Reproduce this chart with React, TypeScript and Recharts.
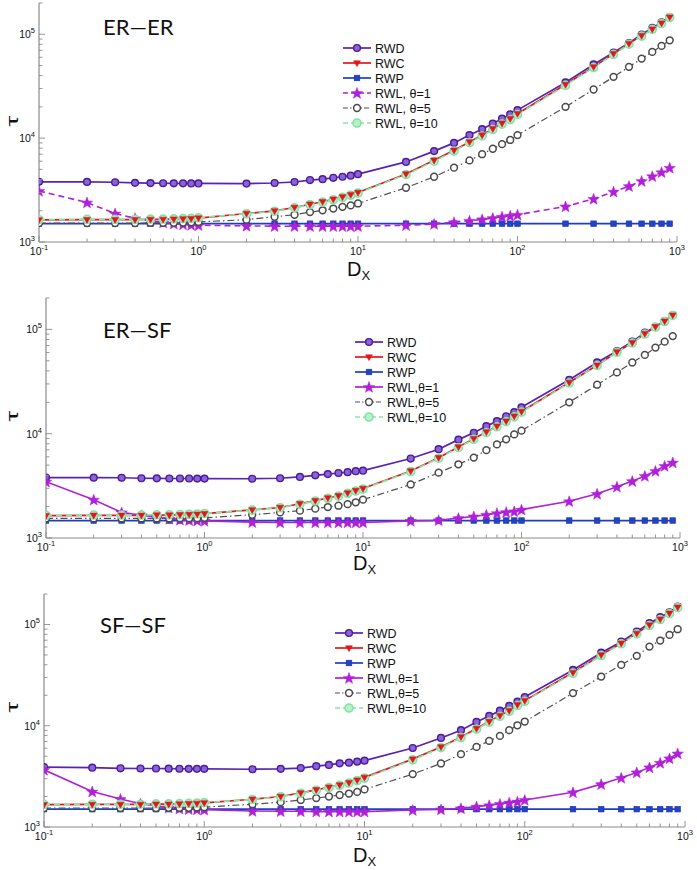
import React from 'react';
import { LineChart, Line, XAxis, YAxis } from 'recharts';

// ---------- data ----------
const DX = [0.1, 0.2, 0.3, 0.4, 0.5, 0.6, 0.7, 0.8, 0.9, 1, 2, 3, 4, 5, 6, 7, 8, 9, 10, 20, 30, 40, 50, 60, 70, 80, 90, 100, 200, 300, 400, 500, 600, 700, 800, 900];

const X_TICKS = [0.1, 0.2, 0.3, 0.4, 0.5, 0.6, 0.7, 0.8, 0.9, 1, 2, 3, 4, 5, 6, 7, 8, 9, 10, 20, 30, 40, 50, 60, 70, 80, 90, 100, 200, 300, 400, 500, 600, 700, 800, 900, 1000];
const X_MAJOR = [0.1, 1, 10, 100, 1000];
const Y_TICKS = [1000, 2000, 3000, 4000, 5000, 6000, 7000, 8000, 9000, 10000, 20000, 30000, 40000, 50000, 60000, 70000, 80000, 90000, 100000, 200000];
const Y_MAJOR = [1000, 10000, 100000];

const ER_ER_RWD = [3800, 3790, 3760, 3710, 3690, 3680, 3670, 3670, 3660, 3660, 3650, 3700, 3780, 3950, 4030, 4150, 4250, 4350, 4500, 5900, 7500, 9000, 10700, 12200, 13800, 15400, 16900, 18600, 34400, 51200, 66700, 82400, 99400, 115000, 130000, 146000];
const ER_ER_RWC = [1630, 1640, 1640, 1640, 1650, 1650, 1660, 1670, 1680, 1700, 1880, 1990, 2150, 2310, 2440, 2580, 2720, 2860, 3000, 4520, 6120, 7640, 9200, 10700, 12300, 13900, 15400, 17200, 32800, 48500, 65000, 81300, 97000, 112000, 128000, 146000];
const ER_ER_RWP = [1500, 1500, 1500, 1500, 1500, 1500, 1500, 1500, 1500, 1500, 1500, 1500, 1500, 1500, 1500, 1500, 1500, 1500, 1500, 1500, 1500, 1500, 1500, 1500, 1500, 1500, 1500, 1500, 1500, 1500, 1500, 1500, 1500, 1500, 1500, 1500];
const ER_ER_L1 = [3100, 2400, 1880, 1690, 1600, 1540, 1500, 1480, 1460, 1450, 1430, 1420, 1420, 1420, 1420, 1420, 1420, 1420, 1420, 1450, 1490, 1550, 1600, 1650, 1700, 1750, 1790, 1830, 2200, 2600, 3050, 3450, 3860, 4300, 4700, 5180];
const ER_ER_L5 = [1520, 1520, 1520, 1520, 1530, 1530, 1530, 1540, 1550, 1560, 1640, 1750, 1830, 1940, 2020, 2100, 2180, 2250, 2350, 3330, 4250, 5200, 6100, 7000, 7900, 8750, 9600, 10700, 20000, 29400, 38900, 48600, 58300, 67600, 77200, 87500];
const ER_ER_L10 = [1640, 1650, 1650, 1650, 1660, 1660, 1670, 1680, 1690, 1710, 1870, 1980, 2130, 2290, 2420, 2550, 2690, 2820, 2960, 4450, 6000, 7500, 9050, 10500, 12100, 13650, 15100, 16900, 32200, 47800, 64000, 80200, 96000, 111500, 127000, 145000];

const ER_SF_RWD = [3800, 3790, 3780, 3740, 3730, 3720, 3720, 3720, 3710, 3710, 3700, 3740, 3850, 3990, 4100, 4200, 4280, 4370, 4420, 5780, 7100, 8770, 10200, 11800, 13200, 14700, 16100, 17900, 32900, 48200, 62100, 76300, 93000, 106000, 120000, 137000];
const ER_SF_RWC = [1640, 1650, 1650, 1650, 1660, 1660, 1670, 1680, 1690, 1710, 1860, 1960, 2130, 2280, 2420, 2540, 2700, 2850, 2980, 4390, 5890, 7470, 8960, 10400, 11800, 13200, 14700, 16300, 31000, 45400, 60800, 74600, 91000, 106000, 120000, 137000];
const ER_SF_RWP = [1470, 1470, 1470, 1470, 1470, 1470, 1470, 1470, 1470, 1470, 1470, 1470, 1470, 1470, 1470, 1470, 1470, 1470, 1470, 1470, 1470, 1470, 1470, 1470, 1470, 1470, 1470, 1470, 1470, 1470, 1470, 1470, 1470, 1470, 1470, 1470];
const ER_SF_L1 = [3470, 2330, 1760, 1650, 1580, 1530, 1500, 1480, 1470, 1460, 1420, 1410, 1410, 1410, 1410, 1410, 1410, 1410, 1410, 1460, 1480, 1550, 1610, 1670, 1730, 1770, 1800, 1870, 2250, 2650, 3100, 3510, 3930, 4390, 4910, 5290];
const ER_SF_L5 = [1540, 1540, 1540, 1540, 1540, 1540, 1550, 1550, 1550, 1560, 1670, 1760, 1830, 1910, 1980, 2040, 2110, 2200, 2330, 3260, 4230, 5090, 5900, 6950, 7900, 8830, 9850, 10700, 20000, 29500, 38700, 48200, 56900, 66900, 76300, 86300];
const ER_SF_L10 = [1650, 1660, 1660, 1660, 1670, 1670, 1680, 1690, 1700, 1720, 1850, 1950, 2110, 2260, 2400, 2520, 2680, 2820, 2950, 4340, 5820, 7380, 8850, 10250, 11650, 13050, 14500, 16100, 30600, 45000, 60300, 74000, 90300, 105000, 119000, 136000];

const SF_SF_RWD = [3900, 3850, 3800, 3780, 3780, 3770, 3760, 3750, 3750, 3750, 3720, 3750, 3820, 3990, 4100, 4250, 4320, 4420, 4520, 6030, 7580, 9040, 10900, 12500, 14100, 15700, 17300, 19200, 35600, 52700, 67600, 84900, 103000, 118000, 132000, 150000];
const SF_SF_RWC = [1660, 1670, 1670, 1670, 1680, 1680, 1690, 1700, 1710, 1730, 1880, 2000, 2170, 2330, 2470, 2600, 2740, 2900, 3090, 4680, 6180, 7760, 9380, 11000, 12600, 14100, 16100, 17700, 33500, 50100, 65200, 81700, 98800, 113000, 129000, 148000];
const SF_SF_RWP = [1500, 1500, 1500, 1500, 1500, 1500, 1500, 1500, 1500, 1500, 1500, 1500, 1500, 1500, 1500, 1500, 1500, 1500, 1500, 1500, 1500, 1500, 1500, 1500, 1500, 1500, 1500, 1500, 1500, 1500, 1500, 1500, 1500, 1500, 1500, 1500];
const SF_SF_L1 = [3670, 2240, 1890, 1700, 1620, 1560, 1520, 1500, 1490, 1480, 1440, 1430, 1430, 1420, 1420, 1420, 1420, 1420, 1420, 1470, 1490, 1530, 1590, 1640, 1690, 1740, 1780, 1850, 2200, 2650, 3060, 3460, 3880, 4300, 4760, 5320];
const SF_SF_L5 = [1540, 1540, 1540, 1540, 1540, 1550, 1550, 1550, 1560, 1570, 1680, 1760, 1850, 1930, 2000, 2070, 2140, 2220, 2350, 3330, 4240, 5240, 6180, 7080, 7940, 9040, 10100, 11000, 21000, 30600, 39900, 49000, 60500, 69400, 78900, 89800];
const SF_SF_L10 = [1670, 1680, 1680, 1680, 1690, 1690, 1700, 1710, 1720, 1740, 1870, 1990, 2150, 2310, 2450, 2580, 2720, 2870, 3040, 4600, 6080, 7640, 9250, 10850, 12400, 13900, 15850, 17450, 33000, 49400, 64500, 80800, 97700, 112000, 128000, 147000];

const LABELS_SPACED = ['RWD', 'RWC', 'RWP', 'RWL, θ=1', 'RWL, θ=5', 'RWL, θ=10'];
const LABELS_TIGHT = ['RWD', 'RWC', 'RWP', 'RWL,θ=1', 'RWL,θ=5', 'RWL,θ=10'];
const TITLES = ['ER—ER', 'ER—SF', 'SF—SF'];

// ---------- styles ----------
const C_RWD = '#5a22b4';
const C_RWC = '#e3161c';
const C_RWP = '#1f3fbf';
const C_L1 = '#b020d8';
const C_L5 = '#505050';
const C_L10 = '#86e6a6';
const AXIS = '#8a8a8a';
const FONT = '"Liberation Sans", Arial, Helvetica, sans-serif';

const starPath = (cx: number, cy: number, R: number) => {
  const r = R * 0.42;
  let d = '';
  for (let i = 0; i < 10; i++) {
    const rad = i % 2 === 0 ? R : r;
    const a = -Math.PI / 2 + (i * Math.PI) / 5;
    d += (i === 0 ? 'M' : 'L') + (cx + rad * Math.cos(a)).toFixed(2) + ',' + (cy + rad * Math.sin(a)).toFixed(2);
  }
  return d + 'Z';
};

type MK = 'rwd' | 'rwc' | 'rwp' | 'l1' | 'l5' | 'l10';

const Marker = ({ kind, cx, cy }: { kind: MK; cx: number; cy: number }) => {
  switch (kind) {
    case 'rwd':
      return <circle cx={cx} cy={cy} r={3.4} fill="#8a64d2" stroke="#4c1a9e" strokeWidth={1.4} />;
    case 'rwc':
      return <path d={`M${cx - 3.4},${cy - 2.2}L${cx + 3.4},${cy - 2.2}L${cx},${cy + 3.6}Z`} fill={C_RWC} stroke={C_RWC} strokeWidth={0.6} />;
    case 'rwp':
      return <rect x={cx - 2.8} y={cy - 2.8} width={5.6} height={5.6} fill="#2442c4" stroke="#1c36a8" strokeWidth={0.6} />;
    case 'l1':
      return <path d={starPath(cx, cy + 0.5, 6)} fill={C_L1} stroke={C_L1} strokeWidth={0.5} />;
    case 'l5':
      return <circle cx={cx} cy={cy} r={3.4} fill="#ffffff" stroke="#4a4a4a" strokeWidth={1.5} />;
    case 'l10':
      return <circle cx={cx} cy={cy} r={4} fill="#b8f0cc" stroke="#84e2a4" strokeWidth={1.6} />;
  }
  return null;
};

const dotFn = (kind: MK) => (p: any) => {
  if (p.cx == null || p.cy == null) return <g key={`n-${kind}-${p.index}`} />;
  return (
    <g key={`d-${kind}-${p.index}`}>
      <Marker kind={kind} cx={p.cx} cy={p.cy} />
    </g>
  );
};

const fmtExp = (v: number) => String(Math.round(Math.log10(v)));
const isMajorX = (v: number) => X_MAJOR.some((m) => Math.abs(m - v) < 1e-9);
const isMajorY = (v: number) => Y_MAJOR.some((m) => Math.abs(m - v) < 1e-9);

const XTick = (props: any) => {
  const { x, y, payload, side } = props;
  const v = payload.value;
  const major = isMajorX(v);
  const len = major ? 6 : 3.5;
  const dir = side === 'bottom' ? -1 : 1;
  return (
    <g>
      <line x1={x} x2={x} y1={y} y2={y + dir * len} stroke={AXIS} strokeWidth={0.9} />
      {major && side === 'bottom' ? (
        <text x={x} y={y + 13} textAnchor="middle" fontSize={10.5} fontFamily={FONT} fill="#111">
          10<tspan dy={-5} fontSize={7.5}>{fmtExp(v)}</tspan>
        </text>
      ) : null}
    </g>
  );
};

const YTick = (props: any) => {
  const { x, y, payload, side } = props;
  const v = payload.value;
  const major = isMajorY(v);
  const len = major ? 6 : 3.5;
  const dir = side === 'left' ? 1 : -1;
  return (
    <g>
      <line x1={x} x2={x + dir * len} y1={y} y2={y} stroke={AXIS} strokeWidth={0.9} />
      {major && side === 'left' ? (
        <text x={x - 4} y={y + 4} textAnchor="end" fontSize={10.5} fontFamily={FONT} fill="#111">
          10<tspan dy={-5} fontSize={7.5}>{fmtExp(v)}</tspan>
        </text>
      ) : null}
    </g>
  );
};

type PanelCfg = {
  top: number;
  height: number;
  mTop: number;
  yW: number;
  mRight: number;
  rwd: number[];
  rwc: number[];
  rwp: number[];
  l1: number[];
  l5: number[];
  l10: number[];
  l1Dashed: boolean;
};

const PANELS: PanelCfg[] = [
  { top: 0, height: 260, mTop: 3, yW: 39, mRight: 20, rwd: ER_ER_RWD, rwc: ER_ER_RWC, rwp: ER_ER_RWP, l1: ER_ER_L1, l5: ER_ER_L5, l10: ER_ER_L10, l1Dashed: true },
  { top: 290, height: 266, mTop: 8, yW: 46, mRight: 17, rwd: ER_SF_RWD, rwc: ER_SF_RWC, rwp: ER_SF_RWP, l1: ER_SF_L1, l5: ER_SF_L5, l10: ER_SF_L10, l1Dashed: false },
  { top: 580, height: 265, mTop: 14, yW: 44, mRight: 12, rwd: SF_SF_RWD, rwc: SF_SF_RWC, rwp: SF_SF_RWP, l1: SF_SF_L1, l5: SF_SF_L5, l10: SF_SF_L10, l1Dashed: false },
];

const Panel = ({ cfg }: { cfg: PanelCfg }) => {
  const data = DX.map((x, i) => ({
    x,
    rwd: cfg.rwd[i],
    rwc: cfg.rwc[i],
    rwp: cfg.rwp[i],
    l1: cfg.l1[i],
    l5: cfg.l5[i],
    l10: cfg.l10[i],
  }));
  const common = { xAxisId: 'b', yAxisId: 'l', type: 'linear' as const, isAnimationActive: false, activeDot: false, legendType: 'none' as const };
  return (
    <div style={{ position: 'absolute', left: 0, top: cfg.top }}>
      <LineChart width={697} height={cfg.height} data={data} margin={{ top: cfg.mTop, right: cfg.mRight, left: 0, bottom: 0 }}>
        <XAxis xAxisId="b" dataKey="x" type="number" scale="log" domain={[0.1, 1000]} allowDataOverflow ticks={X_TICKS} interval={0}
          height={18} tickLine={false} tickSize={0} tickMargin={0} axisLine={{ stroke: AXIS, strokeWidth: 1.2 }}
          tick={(p: any) => <XTick {...p} side="bottom" />} />
        <XAxis xAxisId="t" orientation="top" dataKey="x" type="number" scale="log" domain={[0.1, 1000]} allowDataOverflow ticks={X_TICKS} interval={0}
          height={0} tickLine={false} tickSize={0} tickMargin={0} axisLine={{ stroke: AXIS, strokeWidth: 1.2 }}
          tick={(p: any) => <XTick {...p} side="top" />} />
        <YAxis yAxisId="l" type="number" scale="log" domain={[1000, 200000]} allowDataOverflow ticks={Y_TICKS} interval={0}
          width={cfg.yW} tickLine={false} tickSize={0} tickMargin={0} axisLine={{ stroke: AXIS, strokeWidth: 1.2 }}
          tick={(p: any) => <YTick {...p} side="left" />} />
        <YAxis yAxisId="r" orientation="right" type="number" scale="log" domain={[1000, 200000]} allowDataOverflow ticks={Y_TICKS} interval={0}
          width={0} tickLine={false} tickSize={0} tickMargin={0} axisLine={{ stroke: AXIS, strokeWidth: 1.2 }}
          tick={(p: any) => <YTick {...p} side="right" />} />

        <Line {...common} dataKey="rwd" stroke={C_RWD} strokeWidth={1.7} dot={dotFn('rwd')} />
        <Line {...common} dataKey="rwc" stroke={C_RWC} strokeWidth={1.7} dot={false} />
        <Line {...common} dataKey="rwp" stroke={C_RWP} strokeWidth={1.7} dot={dotFn('rwp')} />
        <Line {...common} dataKey="l1" stroke={C_L1} strokeWidth={1.6} strokeDasharray={cfg.l1Dashed ? '6 4' : undefined} dot={dotFn('l1')} />
        <Line {...common} dataKey="l5" stroke={C_L5} strokeWidth={1.2} strokeDasharray="7 3 1.5 3" dot={dotFn('l5')} />
        <Line {...common} dataKey="l10" stroke={C_L10} strokeWidth={1.7} strokeDasharray="6 4" dot={dotFn('l10')} />
        <Line {...common} dataKey="rwc" stroke="none" strokeWidth={0} dot={dotFn('rwc')} />
      </LineChart>
    </div>
  );
};

const LEG_KINDS: MK[] = ['rwd', 'rwc', 'rwp', 'l1', 'l5', 'l10'];
const LEG_COLORS = [C_RWD, C_RWC, C_RWP, C_L1, C_L5, C_L10];

const Legend = ({ x0, y0, labels, l1Dashed }: { x0: number; y0: number; labels: string[]; l1Dashed: boolean }) => {
  const dashes = [undefined, undefined, undefined, l1Dashed ? '5 3' : undefined, '5 2 1.5 2', '5 3'];
  return (
    <g>
      {labels.map((lab, i) => {
        const y = y0 + i * 15;
        return (
          <g key={lab}>
            <line x1={x0} x2={x0 + 28} y1={y} y2={y} stroke={LEG_COLORS[i]} strokeWidth={i === 4 ? 1.2 : 1.7} strokeDasharray={dashes[i]} />
            <Marker kind={LEG_KINDS[i]} cx={x0 + 14} cy={y} />
            <text x={x0 + 32} y={y + 4.5} fontSize={12.5} fontFamily={FONT} fill="#111">{lab}</text>
          </g>
        );
      })}
    </g>
  );
};

const Overlay = () => (
  <svg width={697} height={870} style={{ position: 'absolute', left: 0, top: 0, pointerEvents: 'none' }}>
    {/* titles */}
    <text x={103} y={35} fontSize={22} fontFamily="Lato, 'Open Sans', sans-serif" fill="#111">{TITLES[0]}</text>
    <text x={103} y={338} fontSize={22} fontFamily="Lato, 'Open Sans', sans-serif" fill="#111">{TITLES[1]}</text>
    <text x={100} y={633} fontSize={22} fontFamily="Lato, 'Open Sans', sans-serif" fill="#111">{TITLES[2]}</text>
    {/* tau labels */}
    {[121, 416, 707].map((cy) => (
      <text key={cy} x={0} y={0} transform={`translate(18, ${cy}) rotate(-90) scale(1.6, 1)`} textAnchor="middle" fontSize={17} fontFamily={FONT} fill="#111">τ</text>
    ))}
    {/* D_X labels */}
    {[[347, 276], [353, 570], [353, 862]].map(([x, y]) => (
      <text key={y} x={x} y={y} fontSize={20} fontFamily={FONT} fill="#111">
        D<tspan dy={4} fontSize={13}>X</tspan>
      </text>
    ))}
    <Legend x0={343} y0={48} labels={LABELS_SPACED} l1Dashed={true} />
    <Legend x0={355} y0={342} labels={LABELS_TIGHT} l1Dashed={false} />
    <Legend x0={335} y0={633} labels={LABELS_TIGHT} l1Dashed={false} />
  </svg>
);

export default function App() {
  return (
    <div style={{ position: 'absolute', left: 0, top: 0, width: 697, height: 870, background: '#ffffff' }}>
      {PANELS.map((cfg, i) => (
        <Panel key={i} cfg={cfg} />
      ))}
      <Overlay />
    </div>
  );
}
